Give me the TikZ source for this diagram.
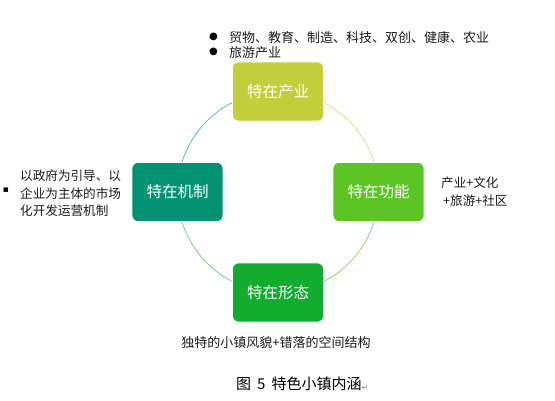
\documentclass[tikz,border=0pt]{standalone}
\usepackage{fontspec}
\setmainfont{Noto Sans CJK SC}
\newfontfamily\symfont{DejaVu Sans}
\usetikzlibrary{backgrounds}
\definecolor{cTop}{HTML}{C2CF3A}
\definecolor{cRight}{HTML}{5CC525}
\definecolor{cBottom}{HTML}{12AD2E}
\definecolor{cLeft}{HTML}{039373}
\definecolor{aTL}{HTML}{5CBFA0}
\definecolor{aTR}{HTML}{D5E08A}
\definecolor{aBR}{HTML}{8ED85C}
\definecolor{aBL}{HTML}{7ACF8A}
\definecolor{txt}{HTML}{1A1A1A}
\tikzset{
  box/.style={draw=white, line width=0.6pt, rounded corners=6pt, minimum width=91pt, minimum height=59pt, inner sep=0pt, text=white, font=\fontsize{15.5}{15.5}\selectfont},
  ring/.style={line width=0.8pt},
  note/.style={inner sep=0pt, text=txt, font=\fontsize{12.6}{17.5}\selectfont, align=left},
}
\begin{document}
\begin{tikzpicture}[x=1pt,y=-1pt]
\useasboundingbox (0,0) rectangle (555,401);
\node[box, fill=cTop] (top) at (278,91.5) {特在产业};
\node[box, fill=cRight] (right) at (378.5,192) {特在功能};
\node[box, fill=cBottom] (bottom) at (278,292.5) {特在形态};
\node[box, fill=cLeft] (left) at (177.5,192) {特在机制};
\begin{scope}[on background layer]
\fill[white] (0,0) rectangle (555,401);
\draw[ring, aTL] (top.center) arc[start angle=90, end angle=180, radius=100.5pt];
\draw[ring, aBL] (left.center) arc[start angle=180, end angle=270, radius=100.5pt];
\draw[ring, aBR] (bottom.center) arc[start angle=270, end angle=360, radius=100.5pt];
\draw[ring, aTR] (right.center) arc[start angle=0, end angle=90, radius=100.5pt];
\end{scope}
% top bullets
\node[note, anchor=west, font=\fontsize{13}{13}\selectfont] (b1) at (229,38) {贸物、教育、制造、科技、双创、健康、农业};
\node[note, anchor=west, font=\fontsize{13}{13}\selectfont] (b2) at (229,53) {旅游产业};
\node[inner sep=0pt, font=\symfont\fontsize{10}{10}\selectfont] (d1) at (213.5,37) {●};
\node[inner sep=0pt, font=\symfont\fontsize{10}{10}\selectfont] (d2) at (213.5,52) {●};
% left text
\node[note, anchor=west] (lt) at (20,193.5) {以政府为引导、以\\企业为主体的市场\\化开发运营机制};
\node[inner sep=0pt, font=\symfont\fontsize{9}{9}\selectfont] (sq) at (6,190) {▪};
% right text
\node[note, anchor=north west] (rt) at (441,177) {产业+文化\\\hspace{2pt}+旅游+社区};
% bottom text
\node[note, font=\fontsize{13}{13}\selectfont] (bt) at (276,343) {独特的小镇风貌+错落的空间结构};
% caption
\node[inner sep=0pt, anchor=west, font=\fontsize{15}{15}\selectfont] (cap) at (236,384) {图\hspace{6pt}5\hspace{6pt}特色小镇内涵\raisebox{-1pt}{\textcolor{gray}{\symfont\fontsize{8}{8}\selectfont ↵}}};
\end{tikzpicture}
\end{document}
